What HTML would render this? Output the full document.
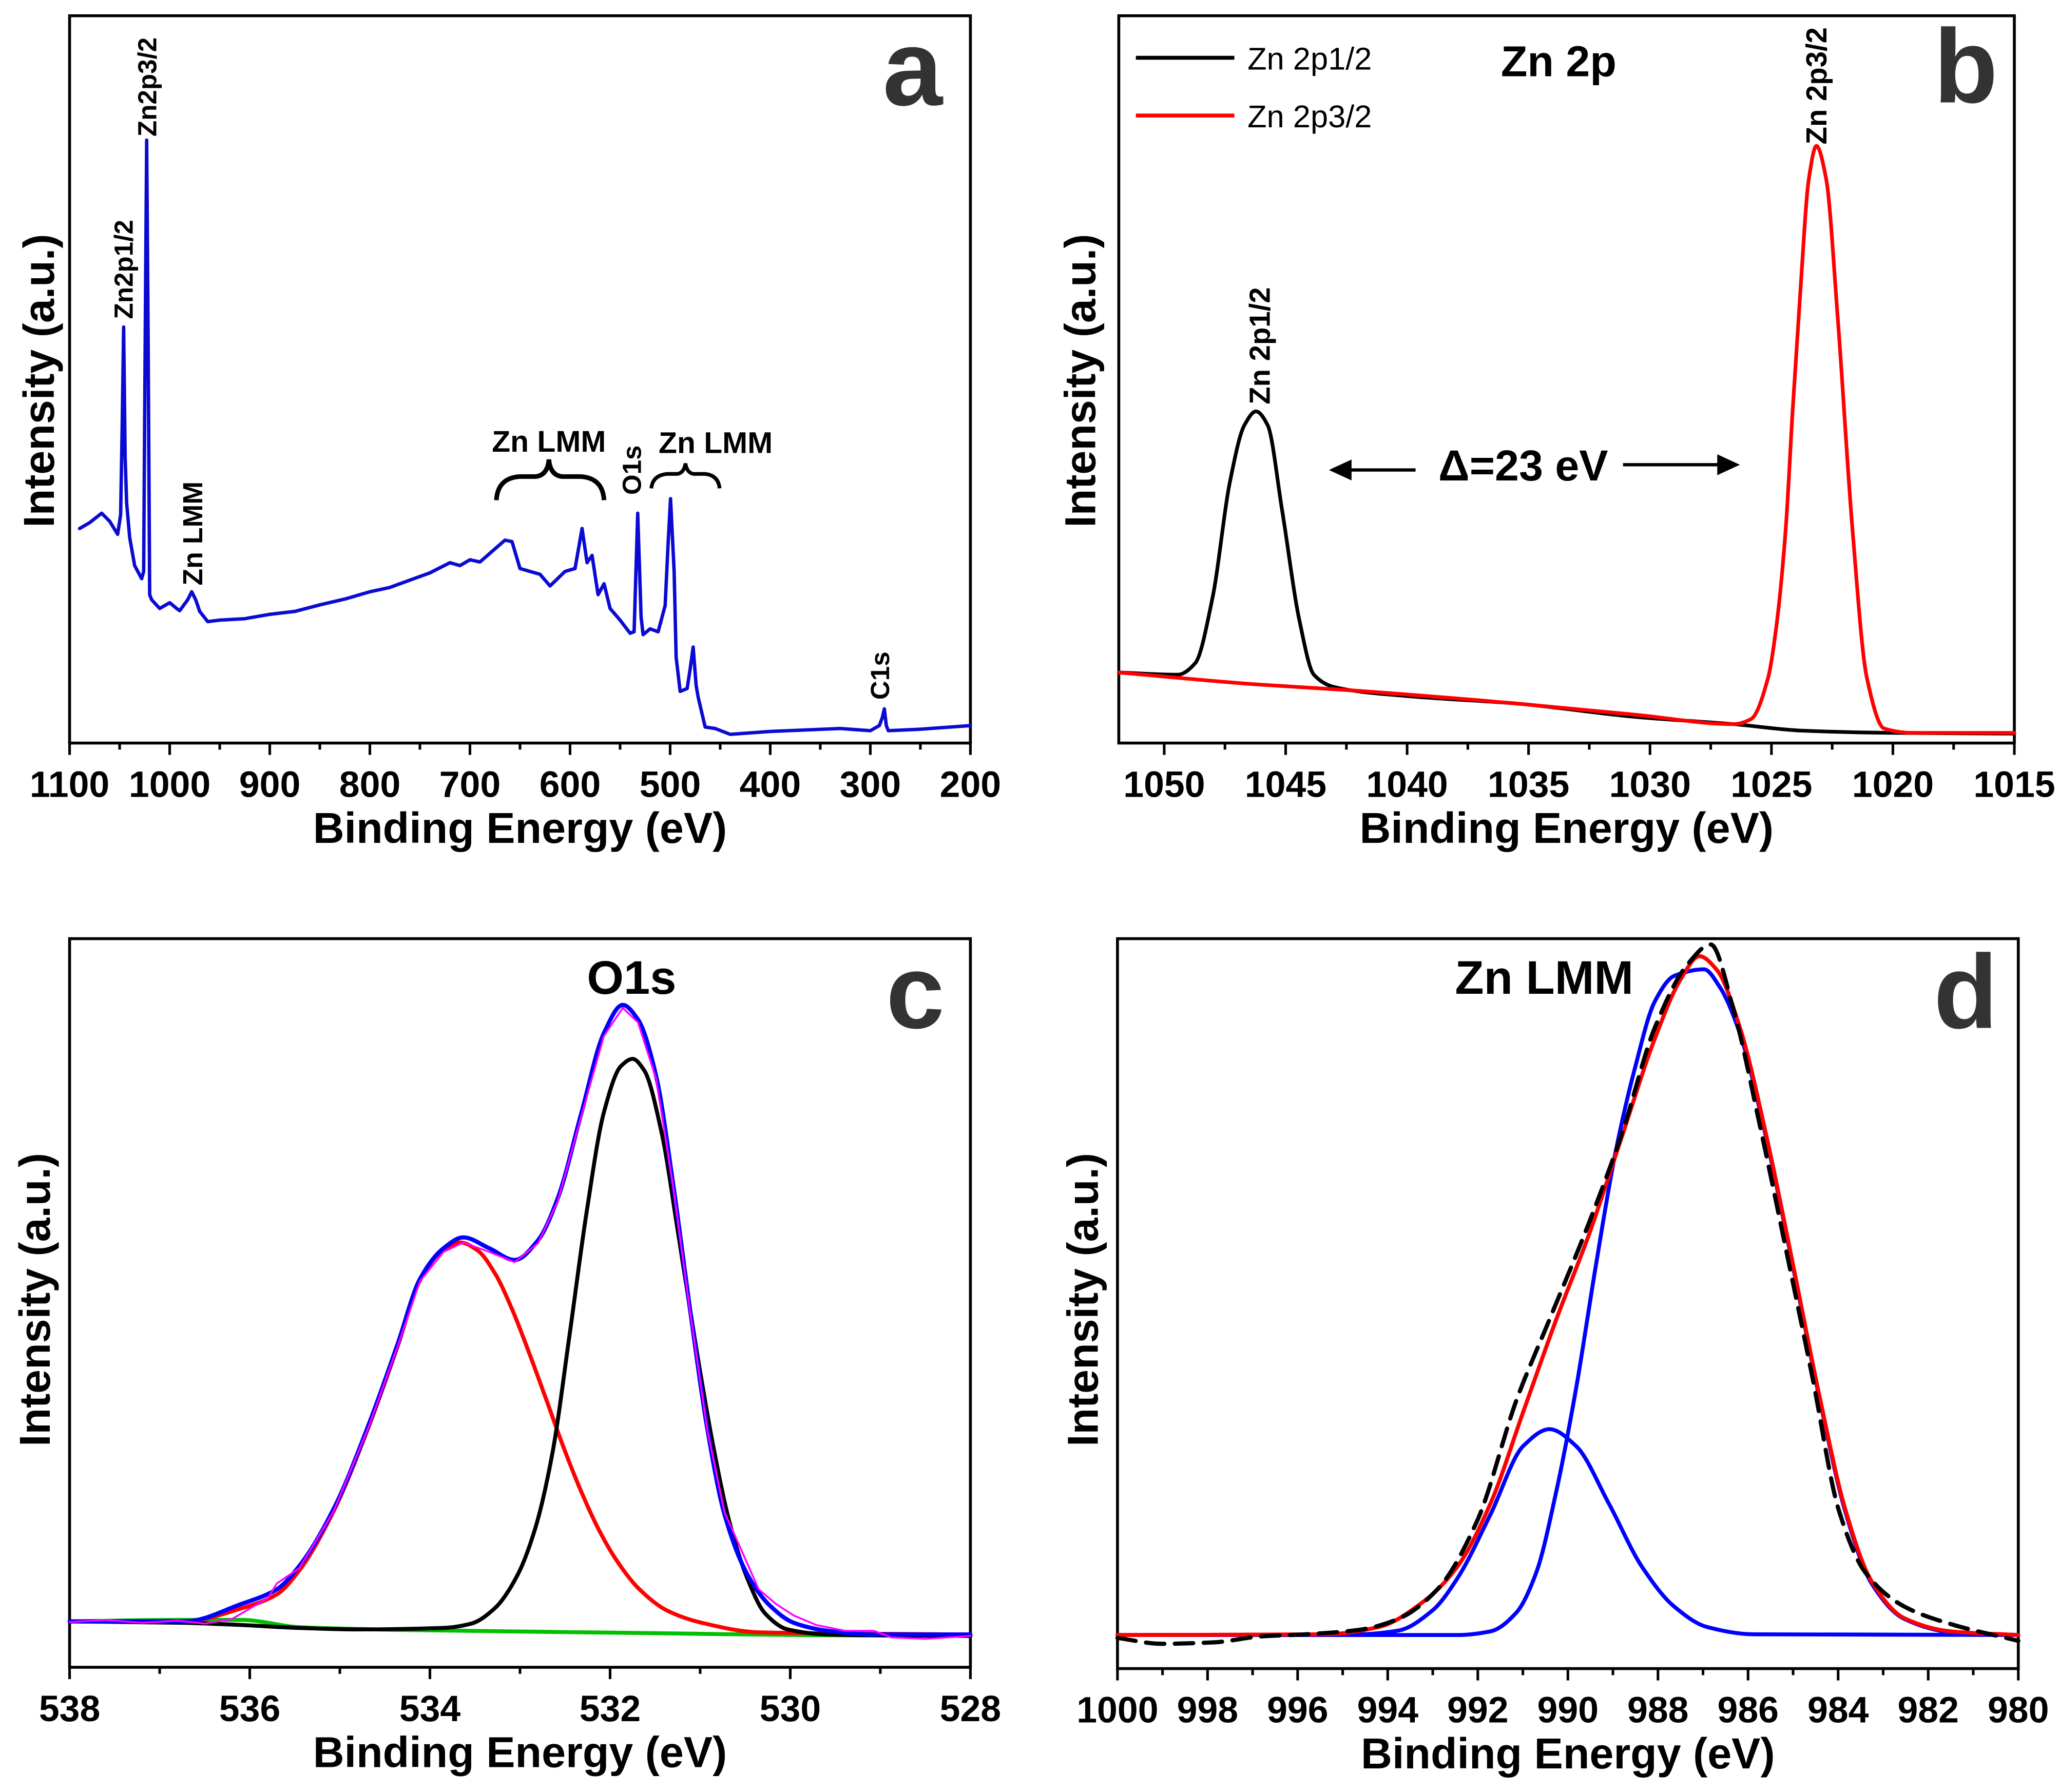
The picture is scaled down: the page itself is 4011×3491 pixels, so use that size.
<!DOCTYPE html>
<html><head><meta charset="utf-8"><style>
html,body{margin:0;padding:0;background:#fff;}
svg{display:block;}
text{font-family:"Liberation Sans",Arial,sans-serif;}
</style></head>
<body>
<svg id="fig" width="4011" height="3491" viewBox="0 0 1568 1365" preserveAspectRatio="none" xmlns="http://www.w3.org/2000/svg">
<rect x="0" y="0" width="1568" height="1365" fill="#fff"/>
<g id="layer"></g>
</svg>
<script>
// ---------- Panel a: survey ----------
const aEnergy=[1090,1080,1068,1060,1052,1049,1047.5,1046,1044.5,1043,1040,1035,1028,1026,1024.5,1023,1021.5,1020,1018,1010,1000,993,990,982,978,974,970,962,950,925,900,875,850,825,800,780,760,740,720,710,700,690,680,665,658,650,640,630,620,605,595,588,583,578,572,566,560,550,540,536,532.4,529,527,520,512,505,502,499.6,496,494,490,483,480,477,474,472,465,455,440,400,330,300,291,288,286,284,282,250,200];
const aIntensity=[29.5,30.3,31.6,30.5,28.7,31.4,43.2,57.2,39.3,33.0,28.3,24.4,22.6,23.6,55.0,82.9,55.0,20.4,19.7,18.5,19.3,18.5,18.2,19.7,20.8,19.7,18.1,16.7,16.9,17.1,17.7,18.1,19.0,19.8,20.8,21.4,22.4,23.4,24.8,24.4,25.2,24.9,26.1,27.9,27.7,24.0,23.6,23.2,21.6,23.6,24.0,29.5,24.8,25.8,20.4,21.9,18.5,16.9,15.1,15.3,31.6,17.3,14.9,15.7,15.3,18.9,27.5,33.6,23.6,11.8,7.1,7.5,10.2,13.2,7.9,6.3,2.2,2.0,1.2,1.6,2.0,1.7,2.4,3.5,4.7,2.4,1.7,1.9,2.4];
const aTicks=[1100,1000,900,800,700,600,500,400,300,200];

// ---------- Panel b: Zn 2p ----------
const bBlackE=[1051.87,1049.44,1048.72,1048.01,1047.29,1046.70,1046.22,1045.74,1045.15,1044.43,1043.84,1043.00,1040.14,1035.38,1030.61,1026.56,1023.70,1020.12,1015];
const bBlackI=[9.7,9.4,11.0,20.0,36.0,43.7,45.6,43.7,32.1,16.8,9.4,7.7,6.5,5.4,3.6,2.6,1.7,1.4,1.3];
const bRedE=[1051.87,1046.34,1042.53,1035.38,1030.61,1026.56,1025.84,1025.13,1024.77,1024.41,1024.13,1023.82,1023.46,1023.15,1022.75,1022.27,1021.67,1021.08,1020.36,1019.17,1015];
const bRedI=[9.7,8.1,7.3,5.4,3.9,2.6,3.3,9.1,16.8,29.6,45.6,61.6,77.6,82.1,77.6,58.4,29.6,9.1,2.0,1.4,1.4];
const bTicks=[1050,1045,1040,1035,1030,1025,1020,1015];

// ---------- Panel c: O1s ----------
const cEnvE=[538,536.72,536.09,535.70,535.45,535.07,534.68,534.36,534.11,533.85,533.63,533.34,533.06,532.80,532.58,532.32,532.07,531.86,531.69,531.49,531.30,531.11,530.92,530.73,530.47,530.22,529.96,529.58,529.07,528];
const cEnvI=[6.3,6.3,8.7,10.7,13.9,21.7,33.3,44.3,53.3,57.5,59.0,57.5,55.9,58.6,64.4,76.0,87.0,90.9,88.9,81.2,66.3,48.9,32.7,21.0,12.6,8.4,6.1,5.0,4.5,4.5];
const cRawE=[538,537.6,537.2,536.8,536.5,536.2,535.8,535.7,535.45,535.07,534.68,534.36,534.11,533.85,533.63,533.34,533.06,532.80,532.58,532.32,532.07,531.86,531.69,531.49,531.30,531.11,530.92,530.73,530.35,530.16,529.96,529.71,529.39,529.07,528.88,528.5,528];
const cRawI=[6.2,6.5,6.1,6.4,6.0,6.6,9.5,11.5,13.6,21.4,33.0,44.0,53.0,57.0,58.3,57.0,55.6,58.2,64.0,75.6,86.6,90.5,88.5,80.8,66.0,48.6,32.5,21.3,10.7,8.7,7.1,5.8,5.0,5.0,4.1,3.9,4.3];
const cRedE=[538,536.72,536.09,535.70,535.45,535.07,534.68,534.36,534.11,533.85,533.66,533.47,533.28,533.09,532.90,532.71,532.52,532.32,532.13,531.94,531.69,531.37,530.98,530.35,528];
const cRedI=[6.3,6.3,8.1,10.0,13.3,21.4,33.0,44.0,53.1,57.3,58.3,57.2,54.1,49.2,43.2,36.8,30.3,24.1,19.0,14.9,10.9,7.8,6.1,4.8,4.5];
const cBlackE=[538,536.72,536.09,535.45,534.81,533.85,533.54,533.28,533.03,532.83,532.64,532.45,532.26,532.07,531.88,531.75,531.62,531.43,531.24,531.05,530.86,530.67,530.47,530.28,530.03,529.58,528];
const cBlackI=[6.3,6.1,5.8,5.4,5.2,5.4,6.0,8.1,12.6,19.1,29.4,45.6,62.5,76.1,82.5,83.5,81.9,73.5,59.2,44.3,30.7,19.7,12.0,7.4,5.2,4.5,4.3];
const cGreenE=[538,536.72,536.09,535.45,534.17,531.62,529.71,528];
const cGreenI=[6.3,6.5,6.5,5.5,5.1,4.7,4.4,4.3];
const cTicks=[538,536,534,532,530,528];

// ---------- Panel d: Zn LMM ----------
const dRedE=[1000,995.37,994.20,993.18,992.45,991.72,990.99,990.26,989.53,988.80,988.07,987.49,987.08,986.69,986.18,985.59,985.01,984.42,983.84,983.26,982.53,981.50,980];
const dRedI=[4.6,4.7,5.7,9.3,14.0,22.6,35.2,47.8,59.5,72.9,86.3,94.5,97.6,95.7,87.8,72.9,55.6,37.5,21.8,12.0,6.9,5.1,4.6];
const dSmallE=[1000,994.64,993.77,993.0,992.45,991.72,990.99,990.41,989.82,989.09,988.36,987.64,986.91,985.88,980];
const dSmallI=[4.6,4.7,5.2,8.0,12.4,21.1,30.5,32.8,30.5,22.6,14.0,8.5,5.7,4.7,4.6];
const dBigE=[1000,992.45,991.72,991.14,990.70,990.26,989.82,989.39,988.95,988.51,988.07,987.64,986.98,986.62,986.18,985.59,985.01,984.42,983.84,983.26,982.53,981.50,980];
const dBigI=[4.6,4.6,5.1,7.7,13.2,24.2,38.3,54.8,70.5,82.3,91.4,94.9,95.8,93.3,87.0,72.5,55.3,37.2,21.5,11.7,6.8,5.0,4.6];
const dDashE=[1000,999.02,997.85,996.83,995.81,994.64,993.77,992.89,992.01,991.14,990.41,989.53,988.80,988.07,987.34,986.83,986.32,985.74,985.15,984.57,983.99,983.40,982.53,981.50,980];
const dDashI=[4.2,3.4,3.6,4.4,4.7,5.3,6.8,10.9,20.3,36.8,47.8,61.1,73.3,87.8,96.5,99.2,90.2,74.5,57.2,39.9,21.8,13.2,8.5,6.1,3.8];
const dTicks=[1000,998,996,994,992,990,988,986,984,982,980];

const NS="http://www.w3.org/2000/svg";
const layer=document.getElementById('layer');
function mk(tag,attrs,parent){const e=document.createElementNS(NS,tag);for(const k in attrs)e.setAttribute(k,attrs[k]);(parent||layer).appendChild(e);return e;}
function scales(p){return{sx:e=>p.l+(e-p.eL)/(p.eR-p.eL)*(p.r-p.l),sy:v=>p.b-v/100*(p.b-p.t)};}
function pts(p,E,I){const s=scales(p);return E.map((e,i)=>[s.sx(e),s.sy(I[i])]);}
function polyD(P){return 'M'+P.map(q=>q[0].toFixed(2)+','+q[1].toFixed(2)).join(' L');}
function smoothD(P){
  const n=P.length;const dx=[],m=[];
  for(let i=0;i<n-1;i++){dx[i]=P[i+1][0]-P[i][0];m[i]=(P[i+1][1]-P[i][1])/dx[i];}
  const t=[m[0]];
  for(let i=1;i<n-1;i++){
    if(m[i-1]*m[i]<=0)t[i]=0;
    else{const w1=2*dx[i]+dx[i-1],w2=dx[i]+2*dx[i-1];t[i]=(w1+w2)/(w1/m[i-1]+w2/m[i]);}
  }
  t[n-1]=m[n-2];
  let d='M'+P[0][0].toFixed(2)+','+P[0][1].toFixed(2);
  for(let i=0;i<n-1;i++){const h=dx[i]/3;
    d+=' C'+(P[i][0]+h).toFixed(2)+','+(P[i][1]+t[i]*h).toFixed(2)+' '+(P[i+1][0]-h).toFixed(2)+','+(P[i+1][1]-t[i+1]*h).toFixed(2)+' '+P[i+1][0].toFixed(2)+','+P[i+1][1].toFixed(2);}
  return d;
}
function txt(x,y,s,opts,parent){const t=mk('text',Object.assign({x:x,y:y},opts||{}),parent);t.textContent=s;return t;}

function frame(p,name,ticks,minorStep,titleX,titleY){
  const g=mk('g',{});
  
  
  const s=scales(p);
  const box=mk('rect',{x:p.l,y:p.t,width:p.r-p.l,height:p.b-p.t,fill:'none',stroke:'#000','stroke-width':2.2},g);
  
  
  const lo=Math.min(p.eL,p.eR),hi=Math.max(p.eL,p.eR);
  for(let v=Math.ceil(lo/minorStep)*minorStep;v<=hi+1e-9;v+=minorStep){
    const x=s.sx(v);const major=ticks.some(t=>Math.abs(t-v)<1e-6);
    const tk=mk('line',{x1:x,x2:x,y1:p.b,y2:p.b+(major?9:5),stroke:'#000','stroke-width':2},g);
    
    
  }
  ticks.forEach(v=>{const t=txt(s.sx(v),p.b+41,String(v),{'font-size':28,'font-weight':'bold','text-anchor':'middle'},g);
    
    });
  const xt=txt((p.l+p.r)/2,p.b+76,'Binding Energy (eV)',{'font-size':33,'font-weight':'bold','text-anchor':'middle'},g);
  
  
  const yt=txt(0,0,'Intensity (a.u.)',{'font-size':33,'font-weight':'bold','text-anchor':'middle',transform:'translate('+titleX+','+titleY+') rotate(-90)'},g);
  
  
  return g;
}
function curve(p,E,I,color,w,name,smooth,dash){
  const P=pts(p,E,I);
  const a={d:smooth?smoothD(P):polyD(P),fill:'none',stroke:color,'stroke-width':w,'stroke-linejoin':'round','stroke-linecap':'round'};
  if(dash)a['stroke-dasharray']=dash;
  const el=mk('path',a);
  
  
  return el;
}
function label(x,y,s,size,name,rot,weight,color,anchor){
  const o={'font-size':size,'font-weight':weight||'bold',fill:color||'#000','text-anchor':anchor||(rot?'start':'middle')};
  let t;
  if(rot){o.transform='translate('+x+','+y+') rotate(-90)';t=txt(0,0,s,o);}else t=txt(x,y,s,o);
  
  
  return t;
}

// Panel a
const pA={l:53,r:739,t:12,b:566,eL:1100,eR:200};
frame(pA,'panel-a-axes',aTicks,50,41,290);
curve(pA,aEnergy,aIntensity,'#0a0ad2',2.6,'survey-spectrum',false);
label(119,104,'Zn2p3/2',20,'label-zn2p3-2',true);
label(101,243,'Zn2p1/2',20,'label-zn2p1-2',true);
label(154,446,'Zn LMM',21,'label-zn-lmm-1',true);
label(418,344,'Zn LMM',23,'label-zn-lmm-2');
label(488,377,'O1s',20,'label-o1s',true);
label(545,345,'Zn LMM',23,'label-zn-lmm-3');
label(677,533,'C1s',20,'label-c1s',true);
label(695,80,'a',82,'panel-letter-a',false,'bold','#333');
const br1=mk('path',{d:'M378,381 Q379,364 396,363 L408,363 Q417,362 418,350 Q419,362 428,363 L442,363 Q459,364 460,381',fill:'none',stroke:'#000','stroke-width':3.5});


const br2=mk('path',{d:'M496,372 Q497,362 508,361 L516,361 Q521,360 522,353 Q523,360 528,361 L537,361 Q547,362 548,372',fill:'none',stroke:'#000','stroke-width':2.8});



// Panel b
const pB={l:852,r:1534,t:12,b:566,eL:1051.87,eR:1015};
frame(pB,'panel-b-axes',bTicks,2.5,834,290);
curve(pB,bBlackE,bBlackI,'#000',2.8,'zn2p1-2-curve',true);
curve(pB,bRedE,bRedI,'#f00',2.8,'zn2p3-2-curve',true);
const lg1=mk('line',{x1:865,x2:940,y1:44,y2:44,stroke:'#000','stroke-width':3});


label(950,53,'Zn 2p1/2',24,'legend-entry-zn2p1-2',false,'normal','#000','start');
const lg2=mk('line',{x1:865,x2:940,y1:88,y2:88,stroke:'#f00','stroke-width':3});


label(950,97,'Zn 2p3/2',24,'legend-entry-zn2p3-2',false,'normal','#000','start');
label(1187,58,'Zn 2p',33,'panel-b-title');
label(1497,78,'b',80,'panel-letter-b',false,'bold','#333');
label(967,308,'Zn 2p1/2',22,'label-zn-2p1-2',true);
label(1391,110,'Zn 2p3/2',22,'label-zn-2p3-2',true);
label(1160,366,'\u0394=23 eV',33,'delta-label');
const ar1=mk('path',{d:'M1078,358 L1024,358 M1015,358 L1028,352 L1028,364 Z',stroke:'#000','stroke-width':2.5,fill:'#000'});


const ar2=mk('path',{d:'M1236,354 L1312,354 M1322,354 L1309,348 L1309,360 Z',stroke:'#000','stroke-width':2.5,fill:'#000'});



// Panel c
const pC={l:53,r:739,t:715,b:1270,eL:538,eR:528};
frame(pC,'panel-c-axes',cTicks,1,38,990);
curve(pC,cGreenE,cGreenI,'#00c000',3,'background-curve',true);
curve(pC,cRedE,cRedI,'#f00',3,'o1s-component-high',true);
curve(pC,cBlackE,cBlackI,'#000',3,'o1s-component-low',true);
curve(pC,cEnvE,cEnvI,'#0000ff',3.2,'o1s-envelope',true);
curve(pC,cRawE,cRawI,'#ff00ff',1.4,'o1s-raw-data',false);
label(481,757,'O1s',36,'panel-c-title');
label(697,783,'c',80,'panel-letter-c',false,'bold','#333');

// Panel d
const pD={l:851,r:1537,t:715,b:1271,eL:1000,eR:980};
frame(pD,'panel-d-axes',dTicks,1,836,990);
curve(pD,dSmallE,dSmallI,'#0000ff',3,'lmm-component-small',true);
curve(pD,dBigE,dBigI,'#0000ff',3,'lmm-component-large',true);
curve(pD,dRedE,dRedI,'#f00',3,'lmm-fit-envelope',true);
curve(pD,dDashE,dDashI,'#000',3.2,'lmm-raw-data',true,'14 8');
label(1176,757,'Zn LMM',36,'panel-d-title');
label(1497,783,'d',80,'panel-letter-d',false,'bold','#333');
</script>
</body></html>
